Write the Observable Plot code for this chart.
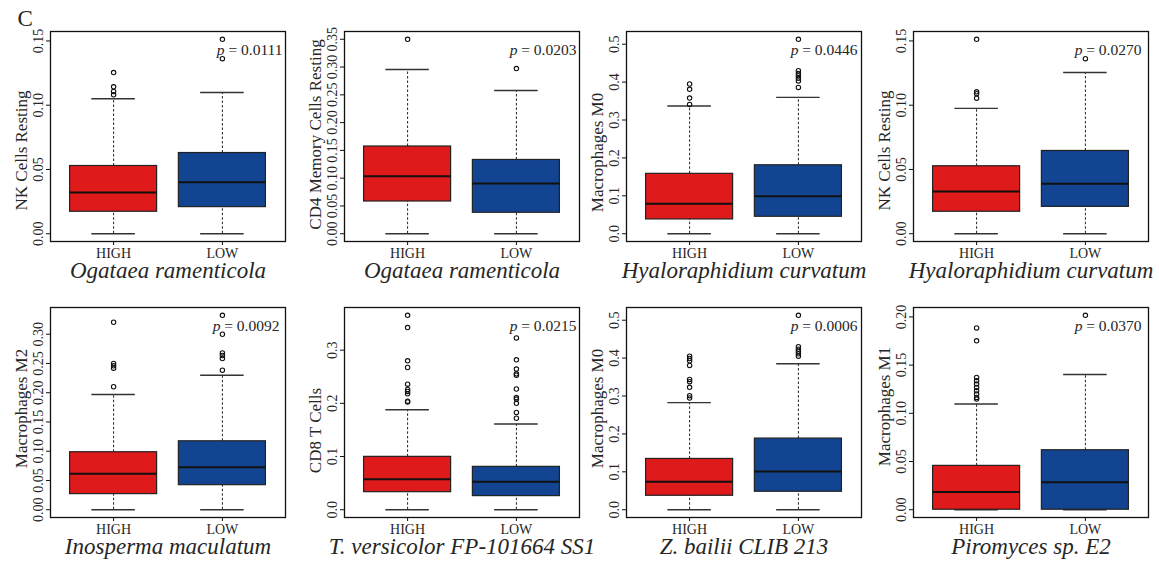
<!DOCTYPE html>
<html>
<head>
<meta charset="utf-8">
<script src="https://cdn.jsdelivr.net/npm/d3@7"></script>
<script src="https://cdn.jsdelivr.net/npm/@observablehq/plot@0.6"></script>
<style>
  body { margin: 0; background: #fff; }
  #chart { position: relative; width: 1159px; height: 561px; overflow: hidden; background: #fff; }
  #chart > div { position: absolute; }
  #chart svg { font-family: "Liberation Serif", "Times New Roman", serif !important; overflow: visible !important; }
</style>
</head>
<body>
<div id="chart"></div>
<script>
// Immune-cell fractions split by fungal abundance (HIGH / LOW), one panel per species.
const groups = ["HIGH", "LOW"];
const species = [
  "Ogataea ramenticola", "Ogataea ramenticola", "Hyaloraphidium curvatum", "Hyaloraphidium curvatum",
  "Inosperma maculatum", "T. versicolor FP-101664 SS1", "Z. bailii CLIB 213", "Piromyces sp. E2"
];
const cellTypes = [
  "NK Cells Resting", "CD4 Memory Cells Resting", "Macrophages M0", "NK Cells Resting",
  "Macrophages M2", "CD8 T Cells", "Macrophages M0", "Macrophages M1"
];
const pValues = ["0.0111", "0.0203", "0.0446", "0.0270", "0.0092", "0.0215", "0.0006", "0.0370"];

// Box statistics per panel: [HIGH, LOW]
const whiskerLow = [[0, 0], [0, 0], [0, 0], [0, 0], [0, 0], [0, 0], [0, 0], [0, 0]];
const q1 = [[0.0171, 0.0207], [0.058, 0.0377], [0.0377, 0.0447], [0.0171, 0.0209],
            [0.0267, 0.042], [0.033, 0.0256], [0.0368, 0.0474], [0, 0]];
const median = [[0.032, 0.040], [0.1034, 0.0903], [0.079, 0.099], [0.0328, 0.0388],
                [0.0614, 0.0727], [0.0575, 0.0525], [0.0737, 0.1008], [0.0183, 0.0286]];
const q3 = [[0.0527, 0.0628], [0.157, 0.1328], [0.158, 0.1806], [0.0525, 0.0644],
            [0.0983, 0.117], [0.0994, 0.0806], [0.134, 0.1877], [0.0455, 0.0617]];
const whiskerHigh = [[0.105, 0.1099], [0.2955, 0.2578], [0.337, 0.3596], [0.0975, 0.1254],
                     [0.197, 0.230], [0.188, 0.1612], [0.2825, 0.385], [0.1096, 0.1403]];
const outliersHigh = [
  [0.1081, 0.1107, 0.1143, 0.1254],
  [0.35],
  [0.341, 0.358, 0.381, 0.395],
  [0.1055, 0.109, 0.1104, 0.1513],
  [0.2102, 0.242, 0.246, 0.250, 0.3205],
  [0.2025, 0.204, 0.218, 0.2224, 0.226, 0.236, 0.2674, 0.280, 0.3425, 0.3656],
  [0.2947, 0.3008, 0.3228, 0.3377, 0.3437, 0.3807, 0.393, 0.399, 0.405],
  [0.1148, 0.1165, 0.1200, 0.1234, 0.1269, 0.1303, 0.1338, 0.1372, 0.1752, 0.1886]
];
const outliersLow = [
  [0.1362, 0.1513],
  [0.2973],
  [0.386, 0.403, 0.410, 0.417, 0.423, 0.430, 0.513],
  [0.1362],
  [0.2386, 0.2585, 0.2636, 0.268, 0.300, 0.3324],
  [0.172, 0.183, 0.200, 0.208, 0.211, 0.227, 0.253, 0.2556, 0.2644, 0.2819, 0.323],
  [0.405, 0.4114, 0.4175, 0.4237, 0.430, 0.513],
  [0.2017]
];
const yTickLabels = [
  ["0.00", "0.05", "0.10", "0.15"],
  ["0.00", "0.05", "0.10", "0.15", "0.20", "0.25", "0.30", "0.35"],
  ["0.0", "0.1", "0.2", "0.3", "0.4", "0.5"],
  ["0.00", "0.05", "0.10", "0.15"],
  ["0.00", "0.05", "0.10", "0.15", "0.20", "0.25", "0.30"],
  ["0.0", "0.1", "0.2", "0.3"],
  ["0.0", "0.1", "0.2", "0.3", "0.4", "0.5"],
  ["0.00", "0.05", "0.10", "0.15", "0.20"]
];

// Layout
const boxFill = ["#de1a1b", "#124491"];
const panelLeft = [0, 294, 576, 863];
const panelTop = [0, 276];
const yLabelShift = [14, -2, 16, 14, -4, 18, -4, -6];
const pInset = [3, 3, 4, 7, 6, 3, 4, 7];

function panel(i) {
  const rows = groups.map((g, j) => ({
    pos: j + 1, group: g, fill: boxFill[j],
    lo: whiskerLow[i][j], q1: q1[i][j], med: median[i][j], q3: q3[i][j], hi: whiskerHigh[i][j]
  }));
  const outs = [outliersHigh[i], outliersLow[i]].flatMap((arr, j) => arr.map(v => ({pos: j + 1, v})));
  const all = rows.flatMap(r => [r.lo, r.hi]).concat(outs.map(o => o.v));
  const lo = d3.min(all), hi = d3.max(all), pad = (hi - lo) * 0.04;
  const tickMap = new Map(yTickLabels[i].map(s => [+s, s]));
  const ticks = yTickLabels[i].map(Number);

  const marks = [
    Plot.ruleX(rows, {x: "pos", y1: "q3", y2: "hi", stroke: "#222", strokeDasharray: "2.5,2"}),
    Plot.ruleX(rows, {x: "pos", y1: "lo", y2: "q1", stroke: "#222", strokeDasharray: "2.5,2"}),
    Plot.ruleY(rows, {y: "hi", x1: d => d.pos - 0.2, x2: d => d.pos + 0.2, stroke: "#333", strokeWidth: 1.4}),
    Plot.ruleY(rows, {y: "lo", x1: d => d.pos - 0.2, x2: d => d.pos + 0.2, stroke: "#333", strokeWidth: 1.4}),
    Plot.rect(rows, {x1: d => d.pos - 0.4, x2: d => d.pos + 0.4, y1: "q1", y2: "q3", fill: "fill", stroke: "#222", strokeWidth: 1.2}),
    Plot.ruleY(rows, {y: "med", x1: d => d.pos - 0.4, x2: d => d.pos + 0.4, stroke: "#111", strokeWidth: 2}),
    Plot.dot(outs, {x: "pos", y: "v", r: 2.2, stroke: "#111", strokeWidth: 1.1, fill: "none"}),
    Plot.frame({stroke: "#111", strokeWidth: 1.3}),
    Plot.axisY(ticks, {
      tickSize: 4, tickPadding: 4, tickRotate: -90, textAnchor: "middle", lineAnchor: "bottom",
      tickFormat: d => tickMap.get(d), fontSize: 14, stroke: "#111", label: null
    }),
    Plot.axisX([1, 2], {
      tickSize: 4, tickPadding: 3, tickFormat: d => groups[d - 1], fontSize: 14, stroke: "#111", label: null
    }),
    Plot.text([cellTypes[i]], {
      frameAnchor: "left", rotate: -90, dx: -24, dy: yLabelShift[i],
      textAnchor: "middle", lineAnchor: "bottom", fontSize: 17
    }),
    Plot.text([`p = ${pValues[i]}`], {
      frameAnchor: "top-right", dx: -pInset[i], dy: 23, textAnchor: "end", lineAnchor: "bottom", fontSize: 15.5
    }),
    Plot.text([species[i]], {
      frameAnchor: "bottom", dy: 36, lineAnchor: "bottom", fontSize: 23, fontStyle: "italic"
    })
  ];
  if (i === 0) {
    marks.push(Plot.text(["C"], {
      frameAnchor: "top-left", dx: -33, dy: -6, textAnchor: "start", lineAnchor: "bottom", fontSize: 23
    }));
  }

  const svg = Plot.plot({
    width: 295, height: 286,
    marginLeft: 50, marginRight: 10, marginTop: 31, marginBottom: 45,
    style: {fontSize: "14px", background: "transparent", color: "#262626"},
    x: {domain: [0.42, 2.58], axis: null},
    y: {domain: [lo - pad, hi + pad], axis: null},
    color: {type: "identity"},
    marks
  });

  // italic "p" in the significance label
  d3.select(svg).selectAll("text")
    .filter(function () { return this.textContent.startsWith("p = "); })
    .each(function () {
      const rest = this.textContent.slice(1);
      const t = d3.select(this);
      t.text(null);
      t.append("tspan").attr("font-style", "italic").text("p");
      t.append("tspan").text(rest);
    });
  return svg;
}

const chart = document.getElementById("chart");
for (let i = 0; i < 8; i++) {
  const cell = document.createElement("div");
  cell.style.left = panelLeft[i % 4] + "px";
  cell.style.top = panelTop[Math.floor(i / 4)] + "px";
  cell.appendChild(panel(i));
  chart.appendChild(cell);
}
</script>
</body>
</html>
